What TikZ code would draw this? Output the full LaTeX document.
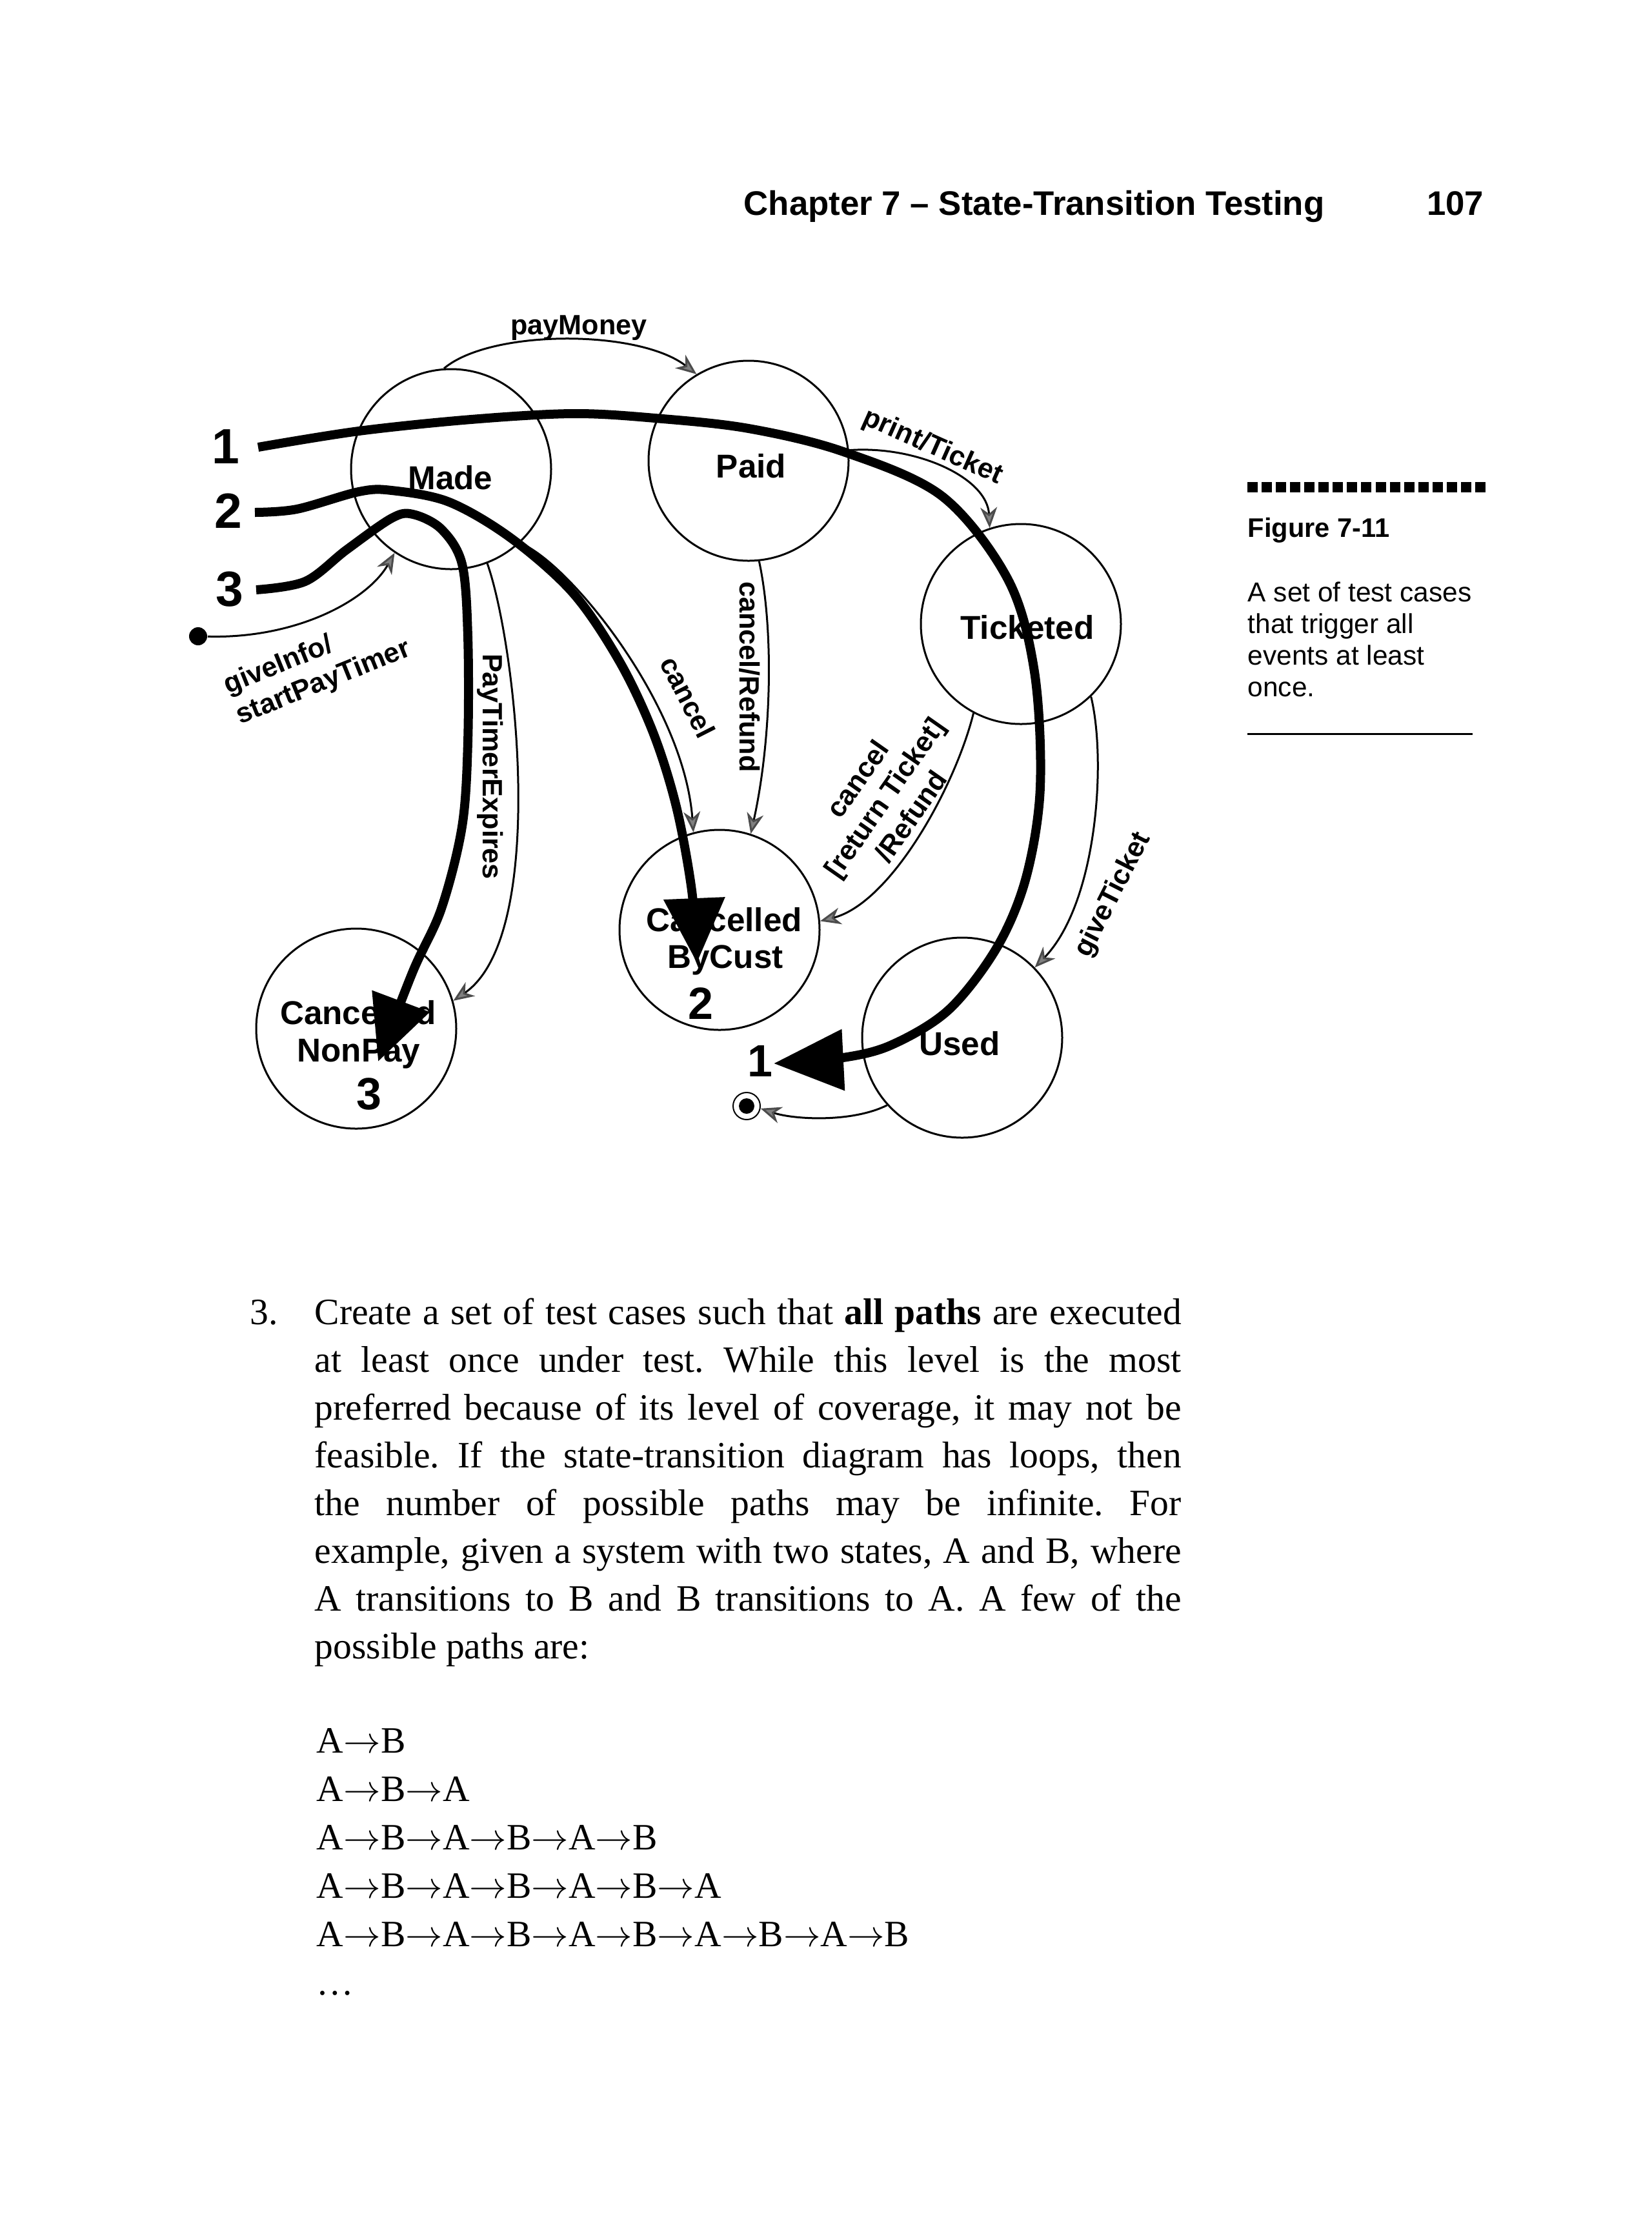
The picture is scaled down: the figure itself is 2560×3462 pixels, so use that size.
\documentclass[tikz,border=0pt]{standalone}
\usepackage{fontspec}
\setmainfont{Liberation Serif}
\setsansfont{Liberation Sans}
\usetikzlibrary{arrows.meta}
\frenchspacing
\newcommand{\ra}{$\rightarrow$}
\begin{document}
\begin{tikzpicture}[x=0.25pt,y=-0.25pt,
  state/.style={circle,draw,line width=0.75pt,minimum size=77.5pt,inner sep=0pt},
  slabel/.style={font=\sffamily\bfseries\fontsize{12.8}{15}\selectfont,inner sep=0pt,anchor=base},
  elabel/.style={font=\sffamily\bfseries\fontsize{10.8}{12.6}\selectfont,inner sep=0pt,align=center},
  numlabel/.style={font=\sffamily\bfseries\fontsize{17.5}{20}\selectfont,inner sep=0pt,anchor=base},
  bignum/.style={font=\sffamily\bfseries\fontsize{19.2}{22}\selectfont,inner sep=0pt,anchor=base},
  trans/.style={line width=0.75pt,-{Stealth[length=8pt,width=6.5pt,inset=2.5pt,fill=gray,color=gray!60!black]}},
  testpath/.style={line width=3.5pt,-{Triangle[length=25pt,width=23pt]}},
]
\fill[white] (0,0) rectangle (2560,3462);
\useasboundingbox (0,0) rectangle (2560,3462);

% header
\node[anchor=base west,inner sep=0,font=\sffamily\bfseries\fontsize{13.2}{15}\selectfont] (hdr) at (1152,333) {Chapter 7 – State-Transition Testing};
\node[anchor=base east,inner sep=0,font=\sffamily\bfseries\fontsize{13.2}{15}\selectfont] (pg) at (2300,333) {107};

% states
\node[state] (made) at (699,727) {};
\node[state] (paid) at (1160,714) {};
\node[state] (tick) at (1582,967) {};
\node[state] (cnp) at (552,1594) {};
\node[state] (cbc) at (1115,1441) {};
\node[state] (used) at (1491,1608) {};
\node[circle,fill,minimum size=7pt,inner sep=0pt] (init) at (307,986) {};
\node[circle,draw,line width=0.5pt,minimum size=10.5pt,inner sep=0pt] (fin) at (1157,1714) {};
\fill (fin.center) circle[radius=3pt];

% state texts
\node[slabel] (madeT) at (698,758) {Made};
\node[slabel] (paidT) at (1164,740) {Paid};
\node[slabel] (tickT) at (1592,990) {Ticketed};
\node[slabel] (usedT) at (1487,1635) {Used};
\node[slabel] (cbcT1) at (1122,1443) {Cancelled};
\node[slabel] (cbcT2) at (1124,1500) {ByCust};
\node[slabel] (cnpT1) at (555,1587) {Cancelled};
\node[slabel] (cnpT2) at (556,1645) {NonPay};

% transitions
\draw[trans] (made.94) .. controls (760,510) and (990,510) .. (paid.121.5);
\draw[trans] (paid.6) .. controls (1420,690) and (1530,740) .. (tick.108);
\draw[trans] (paid.-84) .. controls (1200,980) and (1195,1150) .. (cbc.72);
\draw[trans] (made.-47) .. controls (880,870) and (1060,1090) .. (cbc.105);
\draw[trans] (made.-69.5) .. controls (800,1000) and (850,1450) .. (cnp.16);
\draw[trans] (tick.-118) .. controls (1480,1220) and (1380,1400) .. (cbc.5);
\draw[trans] (tick.-46) .. controls (1715,1180) and (1700,1400) .. (used.44.5);
\draw[trans] (used.-138) .. controls (1320,1740) and (1230,1735) .. (fin.-10);
\draw[trans] (init) .. controls (460,990) and (570,930) .. (made.-124);

% transition labels
\node[elabel] (lpay) at (897,508) {payMoney};
\node[elabel,rotate=-24] (lprint) at (1445,693) {print/Ticket};
\node[elabel,rotate=-90] (lcr) at (1162,1049) {cancel/Refund};
\node[elabel,rotate=-63] (lcan) at (1066,1080) {cancel};
\node[elabel,rotate=-90] (lpte) at (760,1188) {PayTimerExpires};
\node[elabel,rotate=22,align=left] (lgi) at (492,1035) {giveInfo/\\startPayTimer};
\node[elabel,rotate=55] (lcrt) at (1370,1236) {cancel\\{[return Ticket]}\\/Refund};
\node[elabel,rotate=63] (lgt) at (1725,1387) {giveTicket};

% test case labels
\node[bignum] (n1) at (350,718) {1};
\node[bignum] (n2) at (354,818) {2};
\node[bignum] (n3) at (356,939) {3};
\node[numlabel] (e1) at (1178,1668) {1};
\node[numlabel] (e2) at (1086,1579) {2};
\node[numlabel] (e3) at (572,1719) {3};

% test case paths
\draw[testpath,-{Triangle[length=27pt,width=23pt]}] plot[smooth,tension=0.55] coordinates {(400,693) (556,668) (730,650) (888,641) (1015,648) (1160,664) (1307,700) (1460,769) (1562,898) (1603,1041) (1612,1220) (1590,1360) (1545,1468) (1470,1565) (1380,1620) (1300,1640) (1199,1648)};
\draw[testpath] plot[smooth,tension=0.55] coordinates {(395,794) (460,789) (556,762) (607,760) (696,778) (792,834) (888,919) (960,1025) (1012,1135) (1048,1250) (1072,1380) (1080,1492)};
\draw[testpath] plot[smooth,tension=0.55] coordinates {(397,914) (473,901) (537,852) (607,803) (640,797) (684,820) (716,874) (725,986) (725,1150) (716,1281) (684,1408) (640,1505) (586,1645)};

% caption
\foreach \i in {0,...,16} \fill (1933+\i*22.06,747) rectangle ++(16,16);
\node[anchor=base west,inner sep=0,font=\sffamily\bfseries\fontsize{10.4}{12}\selectfont] (figno) at (1933,832) {Figure 7-11};
\node[anchor=base west,inner sep=0,font=\sffamily\fontsize{10.6}{12.33}\selectfont] (cap) at (1933,932) {\parbox[t]{120pt}{A set of test cases\\that trigger all\\events at least\\once.}};
\draw[line width=0.75pt] (1933,1137) -- (2282,1137);

% body text
\node[anchor=base west,inner sep=0,font=\rmfamily\fontsize{14.4}{18.5}\selectfont] (num3) at (387,2052) {3.};
\node[anchor=base west,inner sep=0,font=\rmfamily\fontsize{14.4}{18.5}\selectfont] (para) at (487,2052) {\parbox[t]{335.75pt}{Create a set of test cases such that \textbf{all paths} are executed\linebreak at least once under test. While this level is the most\linebreak preferred because of its level of coverage, it may not be\linebreak feasible. If the state-transition diagram has loops, then\linebreak the number of possible paths may be infinite. For\linebreak example, given a system with two states, A and B, where\linebreak A transitions to B and B transitions to A. A few of the\linebreak possible paths are:}};
\node[anchor=base west,inner sep=0,font=\rmfamily\fontsize{14.4}{18.75}\selectfont] (paths) at (490,2716) {\parbox[t]{400pt}{A\ra B\\A\ra B\ra A\\A\ra B\ra A\ra B\ra A\ra B\\A\ra B\ra A\ra B\ra A\ra B\ra A\\A\ra B\ra A\ra B\ra A\ra B\ra A\ra B\ra A\ra B\\\ldots}};
\end{tikzpicture}
\end{document}
